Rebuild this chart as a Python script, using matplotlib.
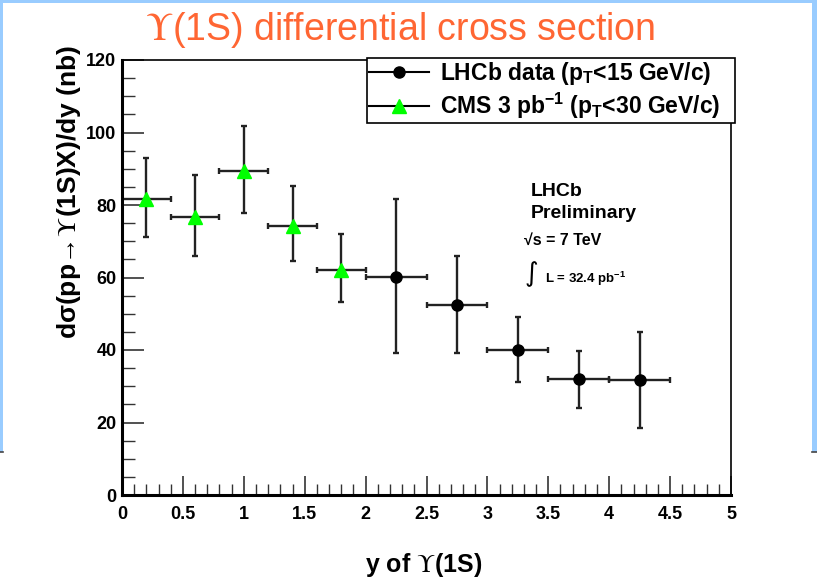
import numpy as np
import matplotlib
matplotlib.use("Agg")
import matplotlib.pyplot as plt
from matplotlib.lines import Line2D
from matplotlib.patches import Rectangle
from matplotlib.ticker import MultipleLocator

plt.rcParams['font.family'] = ['Liberation Sans', 'DejaVu Sans']
plt.rcParams['mathtext.fontset'] = 'custom'
plt.rcParams['mathtext.rm'] = 'Liberation Sans'
plt.rcParams['mathtext.it'] = 'Liberation Sans:italic'
plt.rcParams['mathtext.bf'] = 'Liberation Sans:bold'
plt.rcParams['mathtext.sf'] = 'STIXGeneral'

W, H = 817, 580
UPS = r'$\mathsf{\Upsilon}$'

# CMS 3 pb^-1 (pT < 30 GeV/c), rapidity bins of width 0.4
cms_y = np.array([0.2, 0.6, 1.0, 1.4, 1.8])
cms_halfwidth = np.array([0.2, 0.2, 0.2, 0.2, 0.2])
cms_val = np.array([81.7, 76.7, 89.3, 74.1, 62.1])
cms_up = np.array([93.1, 88.3, 101.9, 85.3, 72.0])
cms_lo = np.array([71.1, 65.9, 77.7, 64.5, 53.2])

# LHCb data (pT < 15 GeV/c), rapidity bins of width 0.5
lhcb_y = np.array([2.25, 2.75, 3.25, 3.75, 4.25])
lhcb_halfwidth = np.array([0.25, 0.25, 0.25, 0.25, 0.25])
lhcb_val = np.array([60.2, 52.4, 40.1, 31.9, 31.7])
lhcb_up = np.array([81.6, 66.0, 49.0, 39.7, 44.9])
lhcb_lo = np.array([39.1, 39.1, 31.3, 23.9, 18.4])


def fx(px):
    return px / W


def fy(py):
    return 1 - py / H


fig = plt.figure(figsize=(W / 100, H / 100), dpi=100)
fig.patch.set_facecolor('white')

# slide frame
blue = '#99ccff'
fig.add_artist(Rectangle((0, fy(452)), fx(3.5), fy(0) - fy(452), transform=fig.transFigure,
                         facecolor=blue, edgecolor='none'))
fig.add_artist(Rectangle((fx(812), fy(452)), fx(5), fy(0) - fy(452), transform=fig.transFigure,
                         facecolor=blue, edgecolor='none'))
fig.add_artist(Rectangle((0, fy(3)), 1, fy(0) - fy(3), transform=fig.transFigure,
                         facecolor=blue, edgecolor='none'))
for x0, x1 in [(0, 3.5), (812, 817)]:
    fig.add_artist(Line2D([fx(x0), fx(x1)], [fy(452), fy(452)], transform=fig.transFigure,
                          color='#444444', lw=1.2))

fig.text(fx(400), fy(40), UPS + '(1S) differential cross section', color='#ff6633',
         fontsize=27, ha='center', va='baseline')

ax = fig.add_axes([fx(122), fy(495), fx(731) - fx(122), fy(60) - fy(495)])
ax.set_xlim(0, 5)
ax.set_ylim(0, 120)

ebar = dict(ecolor='#222222', elinewidth=1.7, capsize=2.5, capthick=1.7, linestyle='none')
ax.errorbar(lhcb_y, lhcb_val, xerr=lhcb_halfwidth,
            yerr=[lhcb_val - lhcb_lo, lhcb_up - lhcb_val],
            fmt='o', color='black', ms=8, **ebar)
ax.errorbar(cms_y, cms_val, xerr=cms_halfwidth,
            yerr=[cms_val - cms_lo, cms_up - cms_val],
            fmt='^', color='#00ff00', mec='#00ff00', ms=10, **ebar)

ax.xaxis.set_major_locator(MultipleLocator(0.5))
ax.xaxis.set_minor_locator(MultipleLocator(0.1))
ax.yaxis.set_major_locator(MultipleLocator(20))
ax.yaxis.set_minor_locator(MultipleLocator(5))
ax.set_xticks(np.arange(0, 5.01, 0.5))
ax.set_xticklabels(['0', '0.5', '1', '1.5', '2', '2.5', '3', '3.5', '4', '4.5', '5'])
ax.tick_params(which='both', direction='in', top=False, right=False, color='#333333')
ax.tick_params(axis='x', which='major', length=14, width=1.2, pad=8, labelsize=13)
ax.tick_params(axis='x', which='minor', length=8, width=1.0)
ax.tick_params(axis='y', which='major', length=16, width=1.2, pad=4, labelsize=13)
ax.tick_params(axis='y', which='minor', length=9, width=1.0)
for lab in ax.get_xticklabels() + ax.get_yticklabels():
    lab.set_fontweight('bold')
for side in ['left', 'bottom']:
    ax.spines[side].set_linewidth(2.2)
for side in ['top', 'right']:
    ax.spines[side].set_linewidth(1.2)

fig.text(fx(69), fy(45), 'dσ(pp' + r'$\!\rightarrow\!$' + UPS + '(1S)X)/dy (nb)', rotation=90,
         ha='center', va='top', fontsize=19, fontweight='bold')
fig.text(fx(424), fy(572), 'y of ' + UPS + '(1S)', ha='center', va='baseline',
         fontsize=18, fontweight='bold')

handles = [Line2D([], [], color='black', lw=1.5, marker='o', ms=8),
           Line2D([], [], color='black', lw=1.5, marker='^', ms=10,
                  mfc='#00ff00', mec='#00ff00')]
labels = [r'LHCb data (p$_{\mathbf{T}}$<15 GeV/c)',
          r'CMS 3 pb$^{\mathbf{-1}}$ (p$_{\mathbf{T}}$<30 GeV/c)']
leg = ax.legend(handles, labels, loc='upper left', mode='expand',
                bbox_to_anchor=(fx(367), fy(120), fx(735) - fx(367), fy(58) - fy(120)),
                bbox_transform=fig.transFigure, handlelength=2.6,
                prop={'size': 16.5, 'weight': 'bold'},
                handletextpad=0.5, labelspacing=0.15, borderpad=0.1, borderaxespad=0,
                fancybox=False, framealpha=1, edgecolor='black')
leg.get_frame().set_linewidth(1.2)

fig.text(fx(531), fy(196), 'LHCb', fontsize=14, fontweight='bold', va='baseline')
fig.text(fx(531), fy(218), 'Preliminary', fontsize=14, fontweight='bold', va='baseline')
fig.text(fx(524), fy(245), '√s = 7 TeV', fontsize=11.5, fontweight='bold', va='baseline')
fig.text(fx(525), fy(281), '∫', fontsize=19, va='baseline', family='DejaVu Sans')
fig.text(fx(545), fy(283), r'L = 32.4 pb$^{\mathbf{-1}}$', fontsize=9.5,
         fontweight='bold', va='baseline')

fig.savefig('out.png', dpi=100)
